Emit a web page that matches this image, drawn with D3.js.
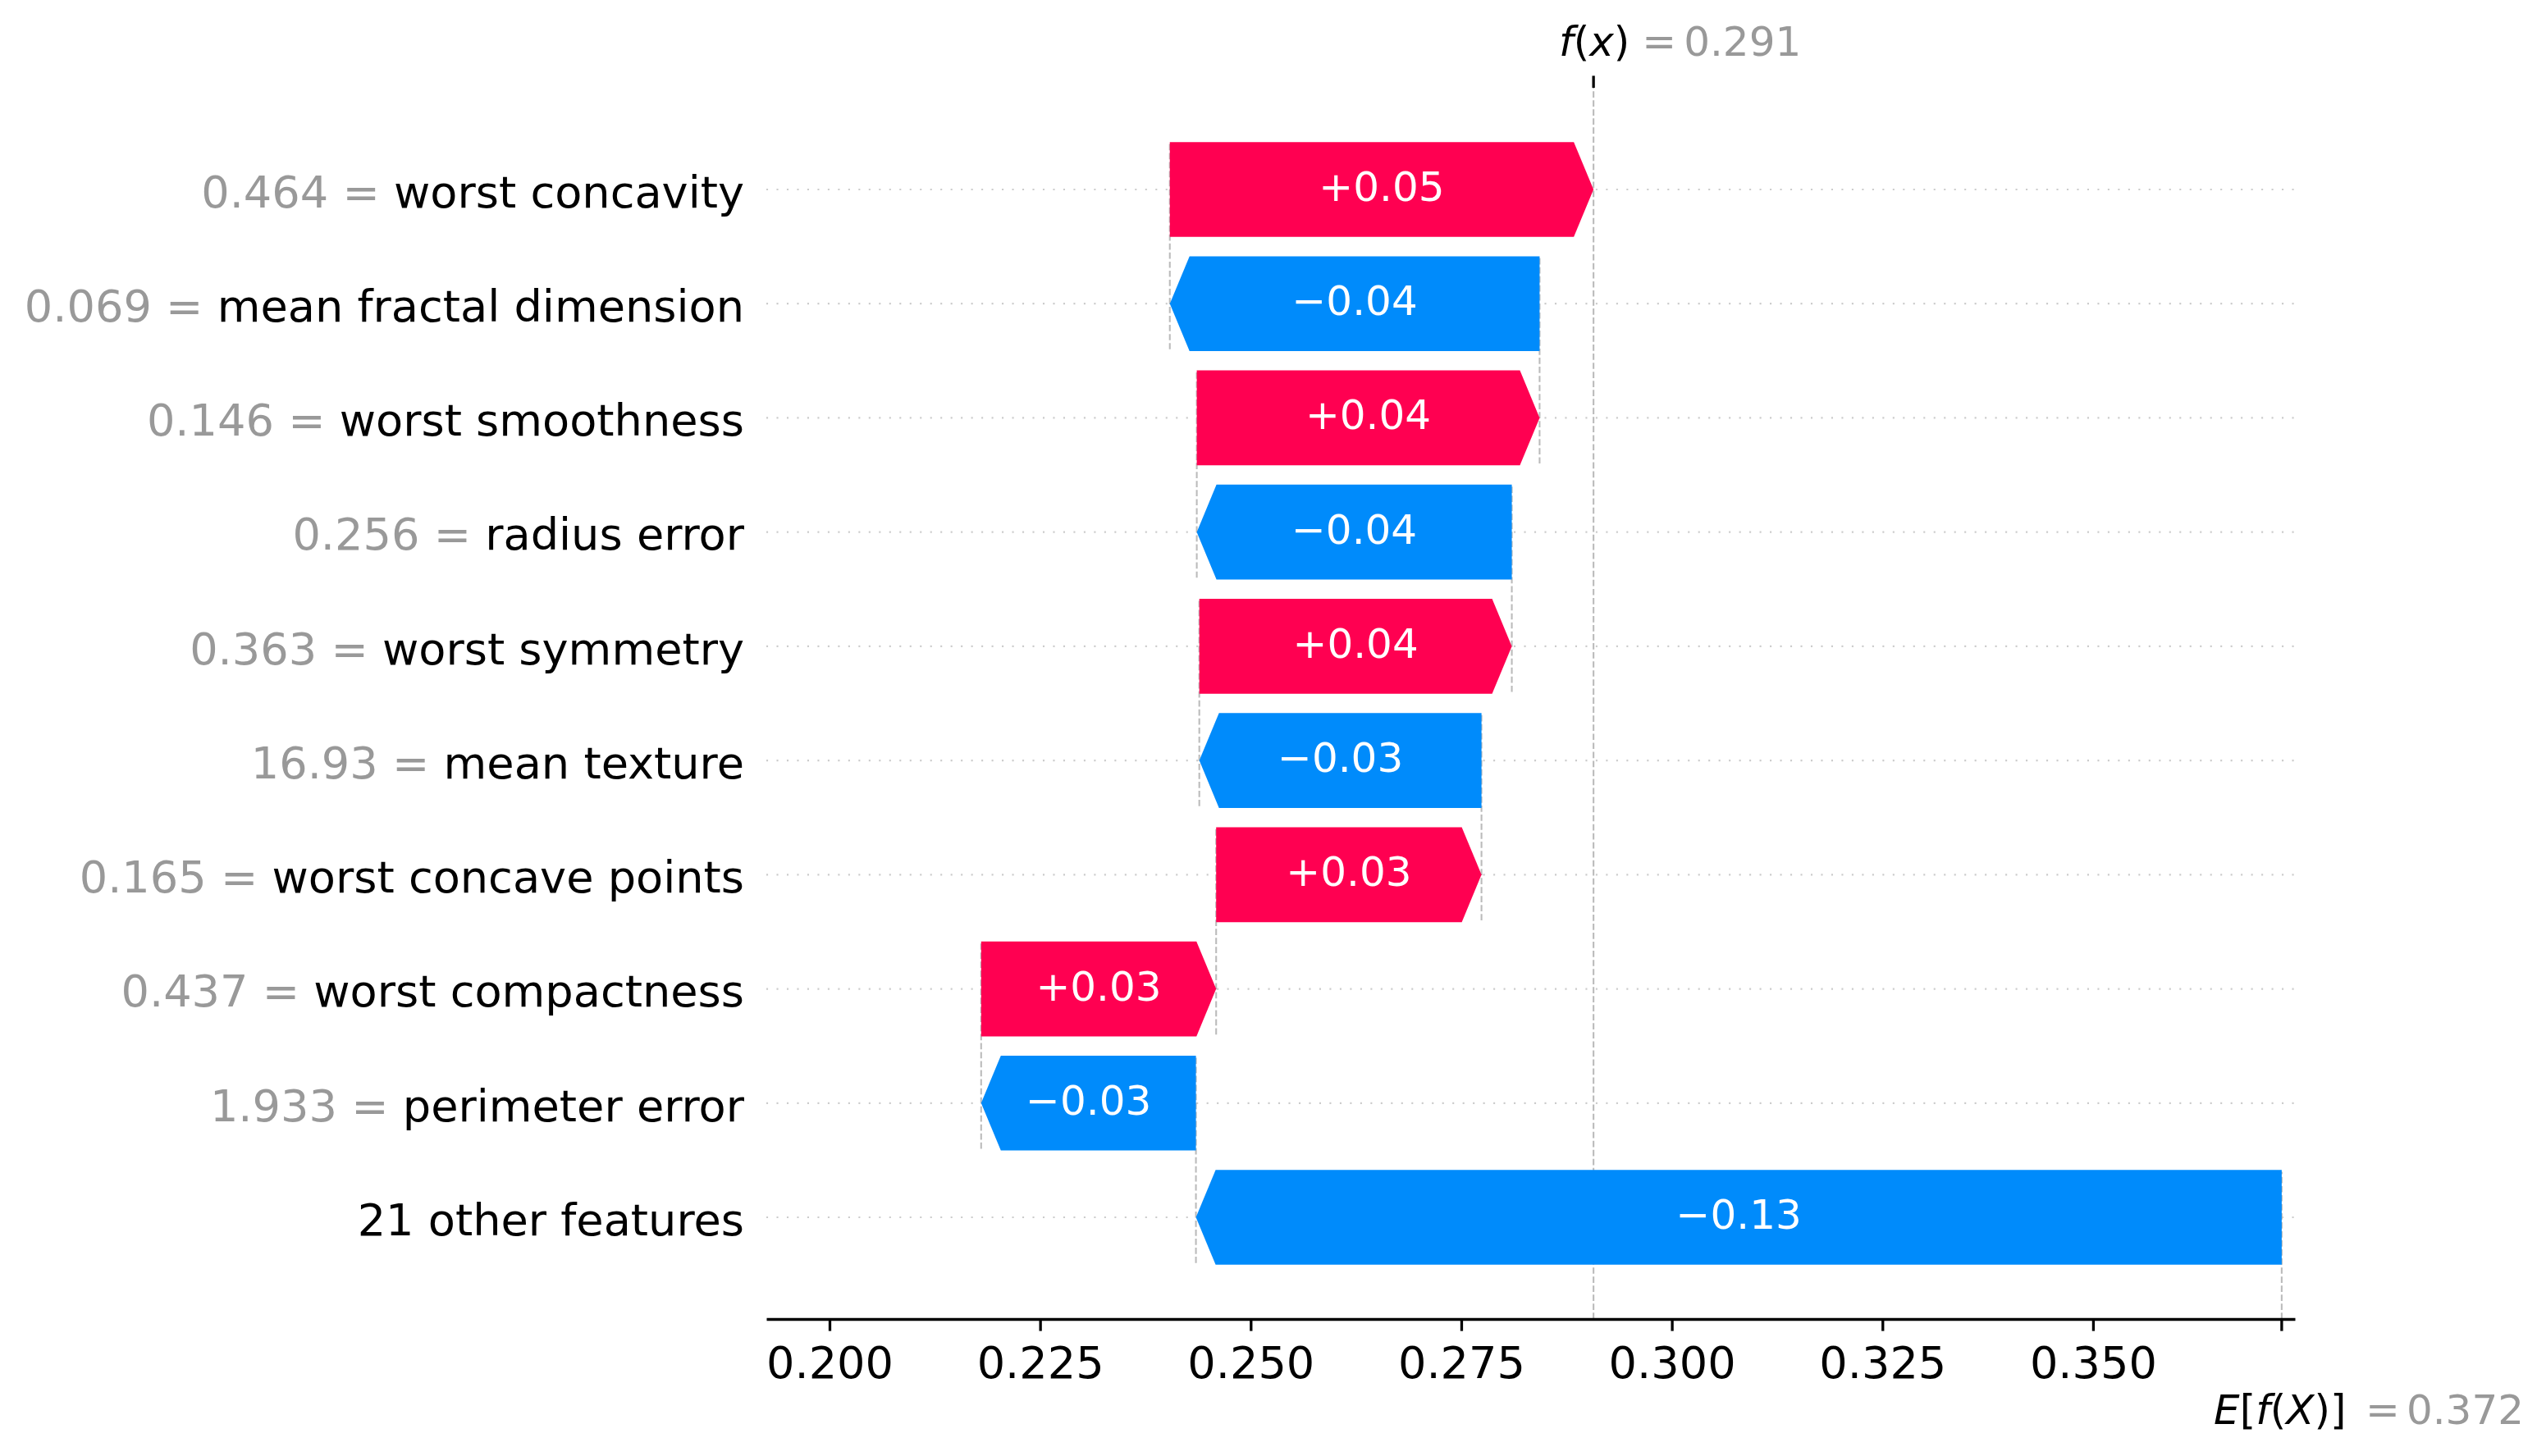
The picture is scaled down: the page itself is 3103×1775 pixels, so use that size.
<!DOCTYPE html>
<html>
<head>
<meta charset="utf-8">
<script src="https://cdn.jsdelivr.net/npm/d3@7"></script>
<style>
  html, body { margin: 0; padding: 0; background: #ffffff; }
  svg { display: block; font-family: "DejaVu Sans", sans-serif; }
</style>
</head>
<body>
<svg id="chart" width="3103" height="1775"></svg>
<script>
// ---- data (top row first) ----
const featureNames = ["worst concavity", "mean fractal dimension", "worst smoothness", "radius error",
  "worst symmetry", "mean texture", "worst concave points", "worst compactness", "perimeter error",
  "21 other features"];
const featureValues = ["0.464", "0.069", "0.146", "0.256", "0.363", "16.93", "0.165", "0.437", "1.933", null];
const shapValues = [0.0503, -0.0439, 0.0407, -0.0374, 0.0371, -0.0335, 0.0315, 0.0279, -0.0255, -0.1289];
const expectedValue = 0.3724;
const xTickValues = [0.200, 0.225, 0.250, 0.275, 0.300, 0.325, 0.350];

// ---- layout ----
const W = 3103, H = 1775;
const axLeft = 934, axRight = 2797, axTop = 107, axBottom = 1608;
const RED = "#ff0051", BLUE = "#008bfb";
const n = featureNames.length;
const tickFont = 54.17, labelFont = 50;

const svg = d3.select("#chart");
svg.append("rect").attr("width", W).attr("height", H).attr("fill", "#fff");

const x = d3.scaleLinear().domain([0.19250, 0.37397]).range([axLeft, axRight]);
const y = d3.scaleLinear().domain([-0.89, 9.89]).range([axBottom, axTop]);

// cumulative positions (from bottom up starting at expected value)
const bars = [];
let cur = expectedValue;
for (let i = n - 1; i >= 0; i--) {
  const v = shapValues[i];
  bars[i] = { i, row: n - 1 - i, v, start: cur, end: cur + v, name: featureNames[i], fval: featureValues[i] };
  cur += v;
}
const fx = cur;

const gGrid = svg.append("g");
// horizontal dotted gridlines
gGrid.selectAll("line.grid").data(bars).enter().append("line")
  .attr("x1", axLeft).attr("x2", axRight)
  .attr("y1", d => y(d.row)).attr("y2", d => y(d.row))
  .attr("stroke", "#cccccc").attr("stroke-width", 2.08)
  .attr("stroke-dasharray", "2.08 10.4");

// connector dashed lines
gGrid.selectAll("line.conn").data(bars).enter().append("line")
  .attr("x1", d => x(d.start)).attr("x2", d => x(d.start))
  .attr("y1", d => Math.min(axBottom, y(d.row - 1.4)))
  .attr("y2", d => y(d.row + 0.4))
  .attr("stroke", "#bbbbbb").attr("stroke-width", 2.08)
  .attr("stroke-dasharray", "7.7 3.33");

// f(x) vertical line
gGrid.append("line")
  .attr("x1", x(fx)).attr("x2", x(fx)).attr("y1", axBottom).attr("y2", axTop)
  .attr("stroke", "#bbbbbb").attr("stroke-width", 2.08)
  .attr("stroke-dasharray", "7.7 3.33");

// bars (arrows)
const half = 0.415, hl = 24;
function arrowPath(d) {
  const yt = y(d.row + half), yb = y(d.row - half), yc = y(d.row);
  const xs = x(d.start), xe = x(d.end);
  if (d.v >= 0) {
    const h = Math.min(hl, xe - xs);
    return `M${xs},${yt}L${xe - h},${yt}L${xe},${yc}L${xe - h},${yb}L${xs},${yb}Z`;
  } else {
    const h = Math.min(hl, xs - xe);
    return `M${xs},${yt}L${xe + h},${yt}L${xe},${yc}L${xe + h},${yb}L${xs},${yb}Z`;
  }
}
svg.append("g").selectAll("path").data(bars).enter().append("path")
  .attr("d", arrowPath)
  .attr("fill", d => d.v >= 0 ? RED : BLUE);

// bar labels
const fmtShap = v => (v >= 0 ? "+" : "\u2212") + d3.format(".2f")(Math.abs(v));
svg.append("g").selectAll("text").data(bars).enter().append("text")
  .attr("x", d => (x(d.start) + x(d.end)) / 2)
  .attr("y", d => y(d.row))
  .attr("dy", "0.28em")
  .attr("text-anchor", "middle")
  .attr("fill", "#ffffff")
  .attr("font-size", labelFont)
  .text(d => fmtShap(d.v));

// y labels
const yl = svg.append("g").selectAll("text").data(bars).enter().append("text")
  .attr("x", 907)
  .attr("y", d => y(d.row))
  .attr("dy", "0.40em")
  .attr("text-anchor", "end")
  .attr("font-size", tickFont);
yl.each(function(d) {
  const t = d3.select(this);
  if (d.fval !== null) {
    t.append("tspan").attr("fill", "#999999").text(d.fval + " = ");
  }
  t.append("tspan").attr("fill", "#000000").text(d.name);
});

// x axis
const xAxis = d3.axisBottom(x).tickValues(xTickValues).tickFormat(d3.format(".3f"))
  .tickSize(14.6).tickSizeOuter(0).tickPadding(14.6);
const gx = svg.append("g").attr("transform", `translate(0,${axBottom})`).call(xAxis);
gx.select(".domain").attr("stroke", "#000").attr("stroke-width", 3.3);
gx.selectAll(".tick line").attr("stroke", "#000").attr("stroke-width", 3.3);
gx.selectAll(".tick text").attr("font-size", tickFont).attr("fill", "#000")
  .attr("font-family", "DejaVu Sans").attr("dy", "0.79em");

// E[f(X)] tick & label
const xE = x(expectedValue);
svg.append("line").attr("x1", xE).attr("x2", xE).attr("y1", axBottom).attr("y2", axBottom + 14.6)
  .attr("stroke", "#000").attr("stroke-width", 3.3);
const eLab = svg.append("text").attr("x", xE - 2).attr("y", 1736)
  .attr("text-anchor", "middle").attr("font-size", labelFont).attr("fill", "#000");
eLab.append("tspan").attr("font-style", "italic").text("E");
eLab.append("tspan").text("[");
eLab.append("tspan").attr("font-style", "italic").text("f");
eLab.append("tspan").text("(");
eLab.append("tspan").attr("font-style", "italic").text("X");
eLab.append("tspan").text(")]");
svg.append("text").attr("x", xE + 102).attr("y", 1736).attr("font-size", labelFont)
  .attr("fill", "#999999").text("=");
svg.append("text").attr("x", xE + 152).attr("y", 1736).attr("font-size", labelFont)
  .attr("fill", "#999999").text(d3.format(".3f")(expectedValue));

// f(x) tick & label
const xF = x(fx);
svg.append("line").attr("x1", xF).attr("x2", xF).attr("y1", axTop).attr("y2", axTop - 14.6)
  .attr("stroke", "#000").attr("stroke-width", 3.3);
const fLab = svg.append("text").attr("x", xF + 1).attr("y", 68)
  .attr("text-anchor", "middle").attr("font-size", labelFont).attr("fill", "#000");
fLab.append("tspan").attr("font-style", "italic").text("f");
fLab.append("tspan").text("(");
fLab.append("tspan").attr("font-style", "italic").text("x");
fLab.append("tspan").text(")");
svg.append("text").attr("x", xF + 59).attr("y", 68).attr("font-size", labelFont)
  .attr("fill", "#999999").text("=");
svg.append("text").attr("x", xF + 110).attr("y", 68).attr("font-size", labelFont)
  .attr("fill", "#999999").text(d3.format(".3f")(fx));
</script>
</body>
</html>
